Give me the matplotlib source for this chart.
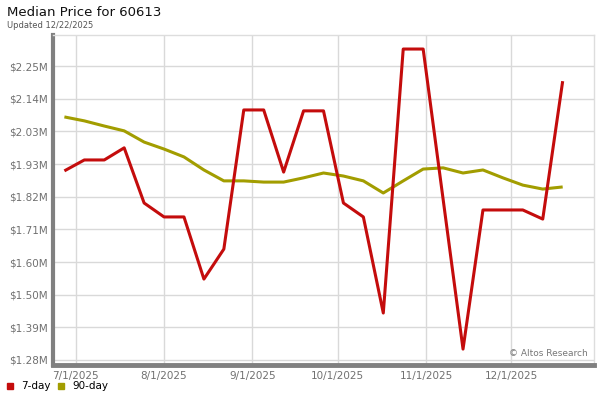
import datetime as dt
import numpy as np
import matplotlib
matplotlib.use("Agg")
from matplotlib import pyplot as plt
import matplotlib.dates as mdates
from matplotlib.ticker import FuncFormatter

# weekly points, Fridays from 6/27/2025
start = dt.date(2025, 6, 27)
dates = [start + dt.timedelta(days=7 * i) for i in range(26)]

# median price, $M
day7 = [1.904, 1.940, 1.940, 1.980, 1.798, 1.752, 1.752, 1.547, 1.646, 2.105,
        2.105, 1.900, 2.102, 2.102, 1.798, 1.752, 1.435, 2.306, 2.306, 1.811,
        1.316, 1.775, 1.775, 1.775, 1.745, 2.200]
day90 = [2.082, 2.069, 2.052, 2.036, 1.999, 1.976, 1.950, 1.907, 1.871, 1.871,
         1.867, 1.867, 1.881, 1.897, 1.887, 1.871, 1.831, 1.871, 1.910, 1.914,
         1.897, 1.907, 1.881, 1.857, 1.844, 1.851]

y_ticks = np.linspace(1.28, 2.25, 10)
x_ticks = [dt.date(2025, m, 1) for m in range(7, 13)]

red = "#c40c0c"
olive = "#a29d00"
gray = "#707070"

fig = plt.figure(figsize=(6, 4), dpi=100)
ax = fig.add_axes([53 / 600, 1 - 365 / 400, 541 / 600, 330 / 400])

ax.plot(dates, day90, color=olive, lw=2.2, solid_capstyle="butt", zorder=3)
ax.plot(dates, day7, color=red, lw=2.2, solid_capstyle="butt", zorder=4)

ax.set_ylim(1.2635, 2.3523)
ax.set_xlim(dt.date(2025, 6, 23), dt.date(2025, 12, 30))
ax.set_yticks(y_ticks)
ax.yaxis.set_major_formatter(FuncFormatter(lambda v, p: "$%.2fM" % v))
ax.set_xticks(x_ticks)
ax.xaxis.set_major_formatter(FuncFormatter(
    lambda v, p: "%d/1/%d" % (mdates.num2date(v).month, mdates.num2date(v).year)))

ax.grid(True, color="#d9d9d9", lw=1)
ax.set_axisbelow(True)
ax.tick_params(length=0, labelsize=7.5, colors=gray, pad=4)
for s in ["top", "right"]:
    ax.spines[s].set_color("#dddddd")
    ax.spines[s].set_linewidth(1)
ax.spines["left"].set_color("#808080")
ax.spines["left"].set_linewidth(3)
ax.spines["bottom"].set_color("#808080")
ax.spines["bottom"].set_linewidth(3.5)

fig.text(7 / 600, 1 - 13 / 400, "Median Price for 60613", fontsize=9.5,
         va="center", ha="left", color="#111111")
fig.text(7 / 600, 1 - 25 / 400, "Updated 12/22/2025", fontsize=6,
         va="center", ha="left", color="#555555")
fig.text(588 / 600, 1 - 354 / 400, "\u00a9 Altos Research", fontsize=6.5,
         va="center", ha="right", color="#777777")

# legend
fig.patches.append(plt.Rectangle((7 / 600, 1 - 389 / 400), 6 / 600, 6 / 400,
                                 transform=fig.transFigure, color=red))
fig.text(21 / 600, 1 - 386 / 400, "7-day", fontsize=7.5, va="center", ha="left")
fig.patches.append(plt.Rectangle((58 / 600, 1 - 389 / 400), 6 / 600, 6 / 400,
                                 transform=fig.transFigure, color=olive))
fig.text(72 / 600, 1 - 386 / 400, "90-day", fontsize=7.5, va="center", ha="left")

fig.savefig("out.png", dpi=100)
